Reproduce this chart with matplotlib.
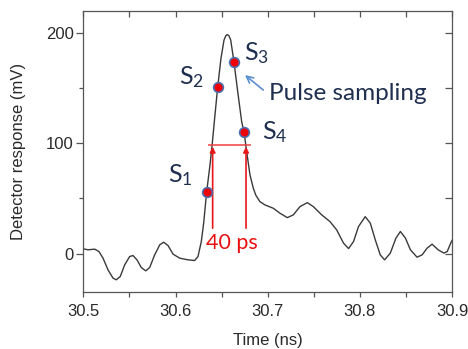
import matplotlib
matplotlib.use("Agg")
import matplotlib.pyplot as plt
from matplotlib.ticker import MultipleLocator

# ---- data ----
time_ns = [30.5, 30.5051, 30.5124, 30.5170, 30.5214, 30.5268, 30.5322, 30.5358, 30.5401,
           30.5449, 30.5503, 30.5539, 30.5582, 30.5629, 30.5677, 30.5720, 30.5774,
           30.5829, 30.5872, 30.5919, 30.5973, 30.6046, 30.6136, 30.6208, 30.6244,
           30.6280, 30.6306, 30.6338, 30.6374, 30.6399, 30.6428, 30.6458, 30.6493,
           30.6526, 30.6545, 30.6562, 30.6580, 30.6599, 30.6634, 30.6675, 30.6718,
           30.6743, 30.6772, 30.6808, 30.6844, 30.6871, 30.6916, 30.6971, 30.7061,
           30.7133, 30.7213, 30.7278, 30.7350, 30.7430, 30.7495, 30.7586, 30.7676,
           30.7748, 30.7822, 30.7877, 30.7931, 30.7985, 30.8058, 30.8113, 30.8167,
           30.8221, 30.8268, 30.8330, 30.8391, 30.8439, 30.8494, 30.8548, 30.8620,
           30.8675, 30.8729, 30.8783, 30.8849, 30.8911, 30.8947, 30.8985, 30.9]
response_mV = [4.3, 3.4, 4.0, 1.8, -4.2, -14.8, -22.3, -23.8, -20.8,
               -10.2, -2.7, -1.8, -5.7, -12.7, -15.7, -12.7, -1.2,
               7.9, 10.3, 7.3, -0.5, -4.2, -5.7, -6.3, -2.7,
               10.9, 28.0, 56.0, 80.4, 100.0, 125.7, 151.4, 177.0,
               193.7, 197.6, 198.8, 197.6, 193.7, 174.0, 146.8, 119.6,
               110.6, 92.4, 71.3, 59.3, 53.0, 47.1, 44.1, 41.1,
               36.6, 32.6, 35.1, 42.6, 46.2, 42.6, 35.1, 29.0,
               21.5, 9.5, 4.5, 10.9, 24.5, 33.5, 27.6, 12.4,
               -1.2, -5.7, 0.4, 14.0, 20.0, 14.0, 3.4, -3.3,
               -1.2, 4.9, 8.5, 3.4, 0.4, 1.8, 9.4, 12.0]

sample_t = [30.6338, 30.6458, 30.6634, 30.6743]
sample_v = [56.0, 151.4, 174.0, 110.6]
sample_labels = ["1", "2", "3", "4"]
label_t = [30.6049, 30.6176, 30.6881, 30.7079]
label_v = [71.0, 160.5, 181.6, 110.6]

fwhm_level = 98.5
fwhm_left = 30.6364
fwhm_right = 30.6807
arrow_t = [30.6403, 30.6765]
arrow_base = 23
arrow_top = 97

xticks = [30.5, 30.6, 30.7, 30.8, 30.9]
xticklabels = ["30.5", "30.6", "30.7", "30.8", "30.9"]
yticks = [0, 100, 200]

plt.rcParams['mathtext.fontset'] = 'custom'
plt.rcParams['mathtext.rm'] = 'Lato'
plt.rcParams['mathtext.it'] = 'Lato'

fig = plt.figure(figsize=(4.68, 3.49), dpi=100)
ax = fig.add_axes([0.178, 0.163, 0.788, 0.805])

ax.plot(time_ns, response_mV, color='#3a3a3a', lw=1.0, zorder=2,
        solid_joinstyle='round')

ax.set_xlim(30.5, 30.9)
ax.set_ylim(-35, 220)

for s in ax.spines.values():
    s.set_color('#555555')
    s.set_linewidth(0.9)

ax.set_xticks(xticks)
ax.set_xticklabels(xticklabels)
ax.set_yticks(yticks)
ax.xaxis.set_minor_locator(MultipleLocator(0.05))
ax.yaxis.set_minor_locator(MultipleLocator(50))
ax.tick_params(axis='both', which='both', direction='out', color='#555555',
               labelsize=12, labelcolor='#2a2a2a', width=0.9)
ax.tick_params(axis='x', which='both', length=3.5, pad=5)
ax.tick_params(axis='y', which='major', length=5, pad=2)
ax.tick_params(axis='y', which='minor', length=3)
for lab in ax.get_xticklabels() + ax.get_yticklabels():
    lab.set_family('Liberation Sans')

# mirror ticks pointing inward on top/right
top = ax.secondary_xaxis('top')
top.set_xticks(xticks)
top.xaxis.set_minor_locator(MultipleLocator(0.05))
top.tick_params(axis='x', which='both', direction='in', length=4, color='#555555',
                labeltop=False, width=0.9)
top.spines['top'].set_visible(False)
right = ax.secondary_yaxis('right')
right.set_yticks(yticks)
right.yaxis.set_minor_locator(MultipleLocator(50))
right.tick_params(axis='y', which='both', direction='in', length=5, color='#555555',
                  labelright=False, width=0.9)
right.spines['right'].set_visible(False)

ax.set_xlabel("Time (ns)", family='Liberation Sans', fontsize=12, color='#2a2a2a', labelpad=10)
ax.set_ylabel("Detector response (mV)", family='Liberation Sans', fontsize=12,
              color='#2a2a2a', labelpad=14)

# FWHM annotation
ax.plot([fwhm_left, fwhm_right], [fwhm_level, fwhm_level], color='#f04040', lw=1.3,
        alpha=0.85, zorder=3)
for t in arrow_t:
    ax.annotate('', xy=(t, arrow_top), xytext=(t, arrow_base),
                arrowprops=dict(arrowstyle='-|>', color='#e81818', lw=1.2,
                                mutation_scale=8, shrinkA=0, shrinkB=0), zorder=3)
ax.text(30.661, 9.4, "40 ps", color='#e81010', fontsize=15.5,
        family='Lato', ha='center', va='center')

# sampling points
ax.plot(sample_t, sample_v, 'o', ms=7, mfc='#f00000', mec='#4a6fb0', mew=1.2, zorder=4)
for lt, lv, sl in zip(label_t, label_v, sample_labels):
    ax.text(lt, lv, r"$\mathrm{S}_{%s}$" % sl, color='#1f2f4f', fontsize=18,
            ha='center', va='center')

ax.annotate('', xy=(30.6754, 162), xytext=(30.6952, 148.4),
            arrowprops=dict(arrowstyle='->', color='#5b8fd0', lw=1.2, mutation_scale=12,
                            shrinkA=0, shrinkB=0))
ax.text(30.7017, 145.4, "Pulse sampling", color='#1f2f4f', fontsize=17.5, family='Lato',
        ha='left', va='center')

fig.savefig("out.png", dpi=100)
